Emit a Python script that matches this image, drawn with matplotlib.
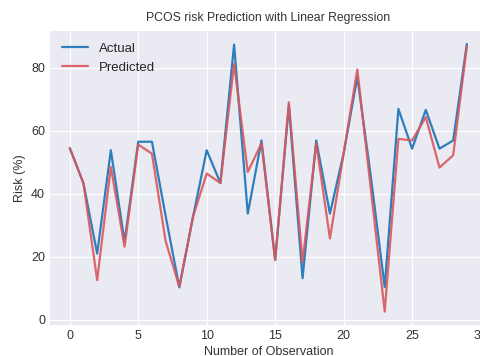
import matplotlib
matplotlib.use("Agg")
import matplotlib.pyplot as plt
import numpy as np

observations = list(range(30))
actual = [54.5, 43.3, 21.0, 53.8, 24.8, 56.5, 56.5, 33.0, 10.3, 32.7,
          53.8, 43.4, 87.3, 33.7, 56.9, 19.0, 68.0, 13.2, 56.9, 33.7,
          52.8, 77.0, 45.0, 10.4, 66.9, 54.3, 66.6, 54.3, 56.9, 87.5]
predicted = [54.5, 43.3, 12.6, 48.5, 23.2, 55.6, 52.7, 25.0, 10.5, 32.7,
             46.4, 43.4, 81.2, 46.9, 56.0, 19.0, 69.0, 18.4, 56.0, 25.8,
             52.8, 79.4, 41.0, 2.6, 57.4, 56.9, 64.3, 48.3, 52.2, 86.8]

plt.style.use("seaborn-v0_8-darkgrid")
plt.rcParams['font.family'] = ['Liberation Sans', 'DejaVu Sans']

fig = plt.figure(figsize=(4.8, 3.56), dpi=100)
ax = fig.add_axes([0.104, 0.087, 0.910, 0.827])
ax.plot(observations, actual, color='#2e7ebc', lw=1.6, label='Actual')
ax.plot(observations, predicted, color='#d9575c', lw=1.6, alpha=0.9, label='Predicted')
ax.set_title('PCOS risk Prediction with Linear Regression', fontsize=8.8, color='#333333', pad=7)
ax.set_xlabel('Number of Observation', fontsize=9, color='#333333', labelpad=3)
ax.set_ylabel('Risk (%)', fontsize=9, color='#333333')
ax.set_xticks([0, 5, 10, 15, 20, 25, 30])
ax.set_yticks([0, 20, 40, 60, 80])
ax.tick_params(labelsize=9, colors='#333333')
ax.legend(loc='upper left', fontsize=9.5)
fig.savefig('out.png', dpi=100)
